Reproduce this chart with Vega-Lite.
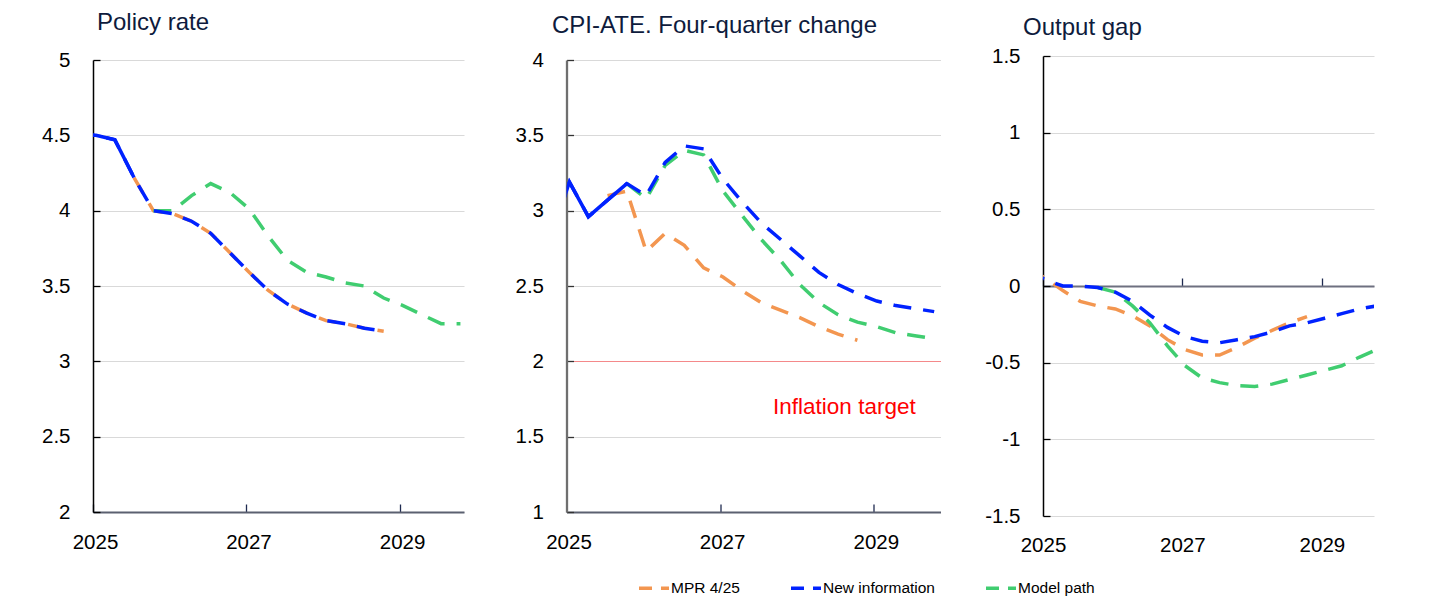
{
  "$schema": "https://vega.github.io/schema/vega-lite/v6.json",
  "autosize": {"type": "pad"},
  "padding": {"left": 41, "top": 10, "right": 5, "bottom": 5},
  "background": "white",
  "datasets": {
    "policy": [
      {"series": "New information", "date": "2024-10-15", "value": 4.5, "observed": true},
      {"series": "New information", "date": "2025-01-15", "value": 4.5, "observed": true},
      {"series": "New information", "date": "2025-04-15", "value": 4.47, "observed": true},
      {"series": "New information", "date": "2025-07-15", "value": 4.22, "observed": true},
      {"series": "New information", "date": "2025-10-15", "value": 4.0},
      {"series": "New information", "date": "2026-01-15", "value": 3.98},
      {"series": "New information", "date": "2026-04-15", "value": 3.93},
      {"series": "New information", "date": "2026-07-15", "value": 3.85},
      {"series": "New information", "date": "2026-10-15", "value": 3.72},
      {"series": "New information", "date": "2027-01-15", "value": 3.59},
      {"series": "New information", "date": "2027-04-15", "value": 3.47},
      {"series": "New information", "date": "2027-07-15", "value": 3.38},
      {"series": "New information", "date": "2027-10-15", "value": 3.32},
      {"series": "New information", "date": "2028-01-15", "value": 3.27},
      {"series": "New information", "date": "2028-04-15", "value": 3.25},
      {"series": "New information", "date": "2028-07-15", "value": 3.22},
      {"series": "New information", "date": "2028-10-15", "value": 3.2},
      {"series": "MPR 4/25", "date": "2025-07-15", "value": 4.22},
      {"series": "MPR 4/25", "date": "2025-10-15", "value": 4.0},
      {"series": "MPR 4/25", "date": "2026-01-15", "value": 3.98},
      {"series": "MPR 4/25", "date": "2026-04-15", "value": 3.93},
      {"series": "MPR 4/25", "date": "2026-07-15", "value": 3.85},
      {"series": "MPR 4/25", "date": "2026-10-15", "value": 3.72},
      {"series": "MPR 4/25", "date": "2027-01-15", "value": 3.59},
      {"series": "MPR 4/25", "date": "2027-04-15", "value": 3.47},
      {"series": "MPR 4/25", "date": "2027-07-15", "value": 3.38},
      {"series": "MPR 4/25", "date": "2027-10-15", "value": 3.32},
      {"series": "MPR 4/25", "date": "2028-01-15", "value": 3.27},
      {"series": "MPR 4/25", "date": "2028-04-15", "value": 3.25},
      {"series": "MPR 4/25", "date": "2028-07-15", "value": 3.22},
      {"series": "MPR 4/25", "date": "2028-10-15", "value": 3.2},
      {"series": "Model path", "date": "2025-10-15", "value": 4.0},
      {"series": "Model path", "date": "2026-01-15", "value": 4.0},
      {"series": "Model path", "date": "2026-04-15", "value": 4.1},
      {"series": "Model path", "date": "2026-07-15", "value": 4.18},
      {"series": "Model path", "date": "2026-10-15", "value": 4.12},
      {"series": "Model path", "date": "2027-01-15", "value": 4.01},
      {"series": "Model path", "date": "2027-04-15", "value": 3.83},
      {"series": "Model path", "date": "2027-07-15", "value": 3.67},
      {"series": "Model path", "date": "2027-10-15", "value": 3.59},
      {"series": "Model path", "date": "2028-01-15", "value": 3.56},
      {"series": "Model path", "date": "2028-04-15", "value": 3.52},
      {"series": "Model path", "date": "2028-07-15", "value": 3.5},
      {"series": "Model path", "date": "2028-10-15", "value": 3.42},
      {"series": "Model path", "date": "2029-01-15", "value": 3.37},
      {"series": "Model path", "date": "2029-04-15", "value": 3.31},
      {"series": "Model path", "date": "2029-07-15", "value": 3.25},
      {"series": "Model path", "date": "2029-10-15", "value": 3.25}
    ],
    "cpi": [
      {"series": "New information", "date": "2024-10-15", "value": 2.8, "observed": true},
      {"series": "New information", "date": "2025-01-15", "value": 3.19, "observed": true},
      {"series": "New information", "date": "2025-04-15", "value": 2.96, "observed": true},
      {"series": "New information", "date": "2025-07-15", "value": 3.07, "observed": true},
      {"series": "New information", "date": "2025-10-15", "value": 3.18, "observed": true},
      {"series": "New information", "date": "2026-01-15", "value": 3.1},
      {"series": "New information", "date": "2026-04-15", "value": 3.32},
      {"series": "New information", "date": "2026-07-15", "value": 3.43},
      {"series": "New information", "date": "2026-10-15", "value": 3.41},
      {"series": "New information", "date": "2027-01-15", "value": 3.21},
      {"series": "New information", "date": "2027-04-15", "value": 3.06},
      {"series": "New information", "date": "2027-07-15", "value": 2.92},
      {"series": "New information", "date": "2027-10-15", "value": 2.81},
      {"series": "New information", "date": "2028-01-15", "value": 2.7},
      {"series": "New information", "date": "2028-04-15", "value": 2.59},
      {"series": "New information", "date": "2028-07-15", "value": 2.51},
      {"series": "New information", "date": "2028-10-15", "value": 2.45},
      {"series": "New information", "date": "2029-01-15", "value": 2.4},
      {"series": "New information", "date": "2029-04-15", "value": 2.37},
      {"series": "New information", "date": "2029-07-15", "value": 2.35},
      {"series": "New information", "date": "2029-10-15", "value": 2.33},
      {"series": "MPR 4/25", "date": "2025-07-15", "value": 3.1},
      {"series": "MPR 4/25", "date": "2025-10-15", "value": 3.13},
      {"series": "MPR 4/25", "date": "2026-01-15", "value": 2.73},
      {"series": "MPR 4/25", "date": "2026-04-15", "value": 2.85},
      {"series": "MPR 4/25", "date": "2026-07-15", "value": 2.77},
      {"series": "MPR 4/25", "date": "2026-10-15", "value": 2.62},
      {"series": "MPR 4/25", "date": "2027-01-15", "value": 2.56},
      {"series": "MPR 4/25", "date": "2027-04-15", "value": 2.47},
      {"series": "MPR 4/25", "date": "2027-07-15", "value": 2.39},
      {"series": "MPR 4/25", "date": "2027-10-15", "value": 2.34},
      {"series": "MPR 4/25", "date": "2028-01-15", "value": 2.29},
      {"series": "MPR 4/25", "date": "2028-04-15", "value": 2.23},
      {"series": "MPR 4/25", "date": "2028-07-15", "value": 2.18},
      {"series": "MPR 4/25", "date": "2028-10-15", "value": 2.14},
      {"series": "Model path", "date": "2025-10-15", "value": 3.18},
      {"series": "Model path", "date": "2026-01-15", "value": 3.08},
      {"series": "Model path", "date": "2026-04-15", "value": 3.3},
      {"series": "Model path", "date": "2026-07-15", "value": 3.4},
      {"series": "Model path", "date": "2026-10-15", "value": 3.37},
      {"series": "Model path", "date": "2027-01-15", "value": 3.13},
      {"series": "Model path", "date": "2027-04-15", "value": 2.97},
      {"series": "Model path", "date": "2027-07-15", "value": 2.81},
      {"series": "Model path", "date": "2027-10-15", "value": 2.67},
      {"series": "Model path", "date": "2028-01-15", "value": 2.51},
      {"series": "Model path", "date": "2028-04-15", "value": 2.39},
      {"series": "Model path", "date": "2028-07-15", "value": 2.31},
      {"series": "Model path", "date": "2028-10-15", "value": 2.26},
      {"series": "Model path", "date": "2029-01-15", "value": 2.23},
      {"series": "Model path", "date": "2029-04-15", "value": 2.19},
      {"series": "Model path", "date": "2029-07-15", "value": 2.17},
      {"series": "Model path", "date": "2029-10-15", "value": 2.15}
    ],
    "gap": [
      {"series": "New information", "date": "2024-10-15", "value": 0.1},
      {"series": "New information", "date": "2025-01-15", "value": 0.04},
      {"series": "New information", "date": "2025-04-15", "value": 0.0},
      {"series": "New information", "date": "2025-07-15", "value": 0.0},
      {"series": "New information", "date": "2025-10-15", "value": -0.01},
      {"series": "New information", "date": "2026-01-15", "value": -0.04},
      {"series": "New information", "date": "2026-04-15", "value": -0.1},
      {"series": "New information", "date": "2026-07-15", "value": -0.19},
      {"series": "New information", "date": "2026-10-15", "value": -0.27},
      {"series": "New information", "date": "2027-01-15", "value": -0.33},
      {"series": "New information", "date": "2027-04-15", "value": -0.36},
      {"series": "New information", "date": "2027-07-15", "value": -0.37},
      {"series": "New information", "date": "2027-10-15", "value": -0.35},
      {"series": "New information", "date": "2028-01-15", "value": -0.33},
      {"series": "New information", "date": "2028-04-15", "value": -0.3},
      {"series": "New information", "date": "2028-07-15", "value": -0.26},
      {"series": "New information", "date": "2028-10-15", "value": -0.24},
      {"series": "New information", "date": "2029-01-15", "value": -0.21},
      {"series": "New information", "date": "2029-04-15", "value": -0.18},
      {"series": "New information", "date": "2029-07-15", "value": -0.15},
      {"series": "New information", "date": "2029-10-15", "value": -0.13},
      {"series": "MPR 4/25", "date": "2024-10-15", "value": 0.12},
      {"series": "MPR 4/25", "date": "2025-01-15", "value": 0.05},
      {"series": "MPR 4/25", "date": "2025-04-15", "value": -0.03},
      {"series": "MPR 4/25", "date": "2025-07-15", "value": -0.1},
      {"series": "MPR 4/25", "date": "2025-10-15", "value": -0.13},
      {"series": "MPR 4/25", "date": "2026-01-15", "value": -0.15},
      {"series": "MPR 4/25", "date": "2026-04-15", "value": -0.195},
      {"series": "MPR 4/25", "date": "2026-07-15", "value": -0.26},
      {"series": "MPR 4/25", "date": "2026-10-15", "value": -0.35},
      {"series": "MPR 4/25", "date": "2027-01-15", "value": -0.415},
      {"series": "MPR 4/25", "date": "2027-04-15", "value": -0.45},
      {"series": "MPR 4/25", "date": "2027-07-15", "value": -0.45},
      {"series": "MPR 4/25", "date": "2027-10-15", "value": -0.4},
      {"series": "MPR 4/25", "date": "2028-01-15", "value": -0.34},
      {"series": "MPR 4/25", "date": "2028-04-15", "value": -0.29},
      {"series": "MPR 4/25", "date": "2028-07-15", "value": -0.24},
      {"series": "MPR 4/25", "date": "2028-10-15", "value": -0.2},
      {"series": "Model path", "date": "2025-10-15", "value": -0.01},
      {"series": "Model path", "date": "2026-01-15", "value": -0.04},
      {"series": "Model path", "date": "2026-04-15", "value": -0.13},
      {"series": "Model path", "date": "2026-07-15", "value": -0.24},
      {"series": "Model path", "date": "2026-10-15", "value": -0.39},
      {"series": "Model path", "date": "2027-01-15", "value": -0.52},
      {"series": "Model path", "date": "2027-04-15", "value": -0.6},
      {"series": "Model path", "date": "2027-07-15", "value": -0.63},
      {"series": "Model path", "date": "2027-10-15", "value": -0.65},
      {"series": "Model path", "date": "2028-01-15", "value": -0.655},
      {"series": "Model path", "date": "2028-04-15", "value": -0.64},
      {"series": "Model path", "date": "2028-07-15", "value": -0.61},
      {"series": "Model path", "date": "2028-10-15", "value": -0.58},
      {"series": "Model path", "date": "2029-01-15", "value": -0.55},
      {"series": "Model path", "date": "2029-04-15", "value": -0.52},
      {"series": "Model path", "date": "2029-07-15", "value": -0.465},
      {"series": "Model path", "date": "2029-10-15", "value": -0.415}
    ],
    "target": [
      {"label": "Inflation target", "date": "2028-08-14", "value": 1.7}
    ]
  },
  "config": {
    "view": {"stroke": null},
    "font": "Liberation Sans",
    "axis": {
      "labelFont": "Liberation Sans",
      "labelFontSize": 20.5,
      "labelColor": "#000000",
      "gridColor": "#D9D9D9",
      "gridWidth": 1.2
    },
    "legend": {
      "symbolType": "stroke",
      "symbolSize": 900,
      "symbolStrokeWidth": 3.5,
      "symbolDash": [13, 9],
      "labelFont": "Liberation Sans",
      "labelFontSize": 15.5,
      "labelColor": "#000000",
      "columnPadding": 44,
      "labelOffset": 0,
      "padding": 0,
      "symbolOffset": 0
    },
    "title": {
      "font": "Liberation Sans",
      "fontSize": 24,
      "fontWeight": "normal",
      "color": "#0E1B3D",
      "anchor": "start",
      "frame": "group",
      "baseline": "alphabetic"
    }
  },
  "spacing": 102.5,
  "bounds": "flush",
  "center": true,
  "resolve": {"scale": {"color": "shared"}},
  "hconcat": [
    {
      "width": 371,
      "height": 452,
      "title": {"text": "Policy rate", "offset": 15.5, "dx": 4},
      "data": {"name": "policy"},
      "encoding": {
        "x": {
          "field": "date", "type": "temporal",
          "scale": {"type": "utc", "domain": [{"year": 2025, "month": 1, "date": 1, "utc": true}, {"year": 2029, "month": 11, "date": 1, "utc": true}]},
          "axis": {
            "title": null, "grid": false, "format": "%Y", "labelFlush": false,
            "values": [{"year": 2025, "month": 1, "date": 1, "utc": true}, {"year": 2027, "month": 1, "date": 1, "utc": true}, {"year": 2029, "month": 1, "date": 1, "utc": true}],
            "domainColor": "#5B6070", "domainWidth": 2.2,
            "tickColor": "#1F2A50", "tickWidth": 1.3, "tickSize": -8,
            "labelPadding": 28.5, "labelOffset": 2
          }
        },
        "y": {
          "field": "value", "type": "quantitative",
          "scale": {"domain": [2, 5], "nice": false, "zero": false},
          "axis": {
            "title": null, "grid": true, "format": "~g",
            "values": [2, 2.5, 3, 3.5, 4, 4.5, 5],
            "domainColor": "#000000", "domainWidth": 1.5,
            "tickColor": "#000000", "tickWidth": 1.3, "tickSize": -7,
            "labelPadding": 30
          }
        },
        "color": {
          "field": "series", "type": "nominal",
          "scale": {"domain": ["MPR 4/25", "New information", "Model path"], "range": ["#F39650", "#0022FF", "#40CD70"]},
          "legend": {"orient": "none", "legendX": 544, "legendY": 515, "direction": "horizontal", "title": null}
        }
      },
      "layer": [
        {"transform": [{"filter": "datum.series === 'MPR 4/25'"}], "mark": {"type": "line", "strokeWidth": 3.5, "strokeDash": [18, 12], "strokeCap": "butt", "clip": true}},
        {"transform": [{"filter": "datum.series === 'Model path'"}], "mark": {"type": "line", "strokeWidth": 3.5, "strokeDash": [18, 12], "strokeCap": "butt", "clip": true}},
        {"transform": [{"filter": "datum.series === 'New information'"}], "mark": {"type": "line", "strokeWidth": 3.5, "strokeDash": [18, 12], "strokeCap": "butt", "clip": true}},
        {"transform": [{"filter": "datum.series === 'New information' && datum.observed === true"}], "mark": {"type": "line", "strokeWidth": 3.5, "clip": true}}
      ]
    },
    {
      "width": 374,
      "height": 452,
      "title": {"text": "CPI-ATE. Four-quarter change", "offset": 12.2, "dx": -14.5},
      "data": {"name": "cpi"},
      "encoding": {
        "x": {
          "field": "date", "type": "temporal",
          "scale": {"type": "utc", "domain": [{"year": 2025, "month": 1, "date": 1, "utc": true}, {"year": 2029, "month": 11, "date": 14, "utc": true}]},
          "axis": {
            "title": null, "grid": false, "format": "%Y", "labelFlush": false,
            "values": [{"year": 2025, "month": 1, "date": 1, "utc": true}, {"year": 2027, "month": 1, "date": 1, "utc": true}, {"year": 2029, "month": 1, "date": 1, "utc": true}],
            "domainColor": "#5B6070", "domainWidth": 2.2,
            "tickColor": "#1F2A50", "tickWidth": 1.3, "tickSize": -8,
            "labelPadding": 28.5, "labelOffset": 2
          }
        },
        "y": {
          "field": "value", "type": "quantitative",
          "scale": {"domain": [1, 4], "nice": false, "zero": false},
          "axis": {
            "title": null, "grid": true, "format": "~g",
            "values": [1, 1.5, 2, 2.5, 3, 3.5, 4],
            "gridColor": {"condition": {"test": "datum.value === 2", "value": "#F4898A"}, "value": "#D9D9D9"},
            "domainColor": "#6F6F6F", "domainWidth": 2.3,
            "tickColor": "#333333", "tickWidth": 1.3, "tickSize": -7,
            "labelPadding": 30
          }
        },
        "color": {
          "field": "series", "type": "nominal",
          "scale": {"domain": ["MPR 4/25", "New information", "Model path"], "range": ["#F39650", "#0022FF", "#40CD70"]},
          "legend": {"orient": "none", "legendX": 544, "legendY": 515, "direction": "horizontal", "title": null}
        }
      },
      "layer": [
        {"transform": [{"filter": "datum.series === 'MPR 4/25'"}], "mark": {"type": "line", "strokeWidth": 3.5, "strokeDash": [18, 12], "strokeCap": "butt", "clip": true}},
        {"transform": [{"filter": "datum.series === 'Model path'"}], "mark": {"type": "line", "strokeWidth": 3.5, "strokeDash": [18, 12], "strokeCap": "butt", "clip": true}},
        {"transform": [{"filter": "datum.series === 'New information'"}], "mark": {"type": "line", "strokeWidth": 3.5, "strokeDash": [18, 12], "strokeCap": "butt", "clip": true}},
        {"transform": [{"filter": "datum.series === 'New information' && datum.observed === true"}], "mark": {"type": "line", "strokeWidth": 3.5, "clip": true}},
        {
          "data": {"name": "target"},
          "mark": {"type": "text", "fontSize": 22.5, "font": "Liberation Sans", "align": "center", "baseline": "middle"},
          "encoding": {"text": {"field": "label"}, "color": {"value": "#FF0000"}}
        }
      ]
    },
    {
      "width": 331,
      "height": 460,
      "title": {"text": "Output gap", "offset": 6.5, "dx": -20},
      "data": {"name": "gap"},
      "encoding": {
        "y": {
          "field": "value", "type": "quantitative",
          "scale": {"domain": [-1.5, 1.5], "nice": false, "zero": false},
          "axis": {
            "title": null, "grid": true,
            "values": [-1.5, -1, -0.5, 0, 0.5, 1, 1.5],
            "labelExpr": "replace(format(datum.value, '~g'), '−', '-')",
            "domainColor": "#000000", "domainWidth": 1.5,
            "tickColor": "#000000", "tickWidth": 1.3, "tickSize": -7,
            "labelPadding": 30
          }
        },
        "color": {
          "field": "series", "type": "nominal",
          "scale": {"domain": ["MPR 4/25", "New information", "Model path"], "range": ["#F39650", "#0022FF", "#40CD70"]},
          "legend": {"orient": "none", "legendX": 544, "legendY": 515, "direction": "horizontal", "title": null}
        }
      },
      "layer": [
        {
          "transform": [{"filter": "datum.series === 'MPR 4/25'"}],
          "mark": {"type": "line", "strokeWidth": 3.5, "strokeDash": [18, 12], "strokeCap": "butt", "clip": true},
          "encoding": {
            "x": {
              "field": "date", "type": "temporal",
              "scale": {"type": "utc", "domain": [{"year": 2025, "month": 1, "date": 1, "utc": true}, {"year": 2029, "month": 10, "date": 1, "utc": true}]},
              "axis": {
                "orient": "bottom", "title": null, "grid": false, "format": "%Y", "labelFlush": false,
                "values": [{"year": 2025, "month": 1, "date": 1, "utc": true}, {"year": 2027, "month": 1, "date": 1, "utc": true}, {"year": 2029, "month": 1, "date": 1, "utc": true}],
                "domain": false, "ticks": false, "labelPadding": 19
              }
            }
          }
        },
        {
          "transform": [{"filter": "datum.series === 'Model path'"}],
          "mark": {"type": "line", "strokeWidth": 3.5, "strokeDash": [18, 12], "strokeCap": "butt", "clip": true},
          "encoding": {
            "x": {
              "field": "date", "type": "temporal",
              "scale": {"type": "utc", "domain": [{"year": 2025, "month": 1, "date": 1, "utc": true}, {"year": 2029, "month": 10, "date": 1, "utc": true}]},
              "axis": {
                "orient": "top", "title": null, "grid": false, "labels": false, "offset": -230,
                "values": [{"year": 2025, "month": 1, "date": 1, "utc": true}, {"year": 2027, "month": 1, "date": 1, "utc": true}, {"year": 2029, "month": 1, "date": 1, "utc": true}],
                "domainColor": "#6E7080", "domainWidth": 2.2,
                "tickColor": "#1F2A50", "tickWidth": 1.3, "tickSize": 8
              }
            }
          }
        },
        {
          "transform": [{"filter": "datum.series === 'New information'"}],
          "mark": {"type": "line", "strokeWidth": 3.5, "strokeDash": [18, 12], "strokeCap": "butt", "clip": true},
          "encoding": {
            "x": {
              "field": "date", "type": "temporal",
              "scale": {"type": "utc", "domain": [{"year": 2025, "month": 1, "date": 1, "utc": true}, {"year": 2029, "month": 10, "date": 1, "utc": true}]},
              "axis": null
            }
          }
        }
      ],
      "resolve": {"axis": {"x": "independent"}}
    }
  ]
}
